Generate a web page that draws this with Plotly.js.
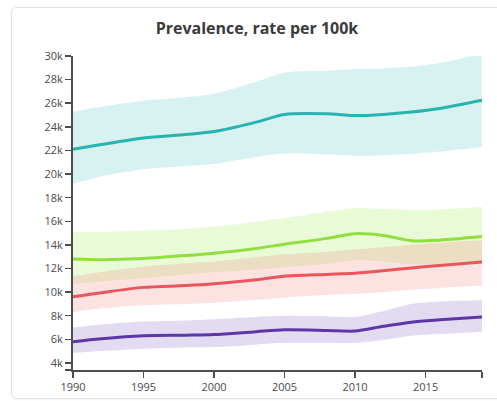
<!DOCTYPE html>
<html>
<head>
<meta charset="utf-8">
<script src="https://cdn.plot.ly/plotly-3.0.1.min.js"></script>
<style>
  html, body { margin: 0; padding: 0; background: #ffffff; width: 497px; height: 401px; overflow: hidden; }
  #card { position: absolute; left: 11px; top: 7px; width: 520px; height: 390px;
          border: 1.5px solid #e4e4e4; border-radius: 6px; box-shadow: 0 0 3px rgba(0,0,0,0.06); background: #fff; }
  #chart { position: absolute; left: 0; top: 0; width: 497px; height: 401px; }
</style>
</head>
<body>
<div id="card"></div>
<div id="chart"></div>
<script>
const years = [1990, 1992, 1995, 1998, 2000, 2003, 2005, 2008, 2010, 2012, 2014, 2016, 2019];

const tealMid   = [22100, 22500, 23050, 23350, 23600, 24400, 25050, 25100, 24950, 25050, 25250, 25550, 26250];
const tealUp    = [25300, 25700, 26200, 26500, 26800, 27800, 28600, 28750, 28900, 28950, 29100, 29400, 30200];
const tealLo    = [19200, 19800, 20400, 20650, 20850, 21450, 21750, 21650, 21550, 21600, 21700, 21900, 22300];

const greenMid  = [12800, 12750, 12850, 13100, 13300, 13700, 14050, 14550, 14950, 14800, 14350, 14400, 14700];
const greenUp   = [15100, 15100, 15200, 15350, 15550, 15950, 16250, 16800, 17100, 17050, 16950, 17000, 17200];
const greenLo   = [10700, 10900, 11200, 11500, 11700, 11900, 12100, 12400, 12700, 12600, 12350, 12400, 12600];

const redMid    = [9600, 9950, 10400, 10550, 10700, 11050, 11350, 11500, 11600, 11800, 12050, 12250, 12550];
const redUp     = [11350, 11700, 12150, 12450, 12600, 12950, 13200, 13400, 13600, 13800, 14000, 14200, 14400];
const redLo     = [8300, 8600, 8900, 9000, 9100, 9350, 9550, 9750, 9850, 10000, 10200, 10350, 10550];

const purpleMid = [5800, 6050, 6300, 6350, 6400, 6650, 6800, 6750, 6700, 7100, 7450, 7650, 7900];
const purpleUp  = [7000, 7250, 7500, 7600, 7700, 7900, 8000, 7950, 7900, 8400, 9000, 9200, 9300];
const purpleLo  = [4850, 5000, 5200, 5300, 5350, 5550, 5700, 5700, 5700, 5950, 6300, 6450, 6650];

const yTickVals = [3400, 4000, 6000, 8000, 10000, 12000, 14000, 16000, 18000, 20000, 22000, 24000, 26000, 28000, 30000];
const yTickText = ["", "4k", "6k", "8k", "10k", "12k", "14k", "16k", "18k", "20k", "22k", "24k", "26k", "28k", "30k"];
const xTickVals = [1990, 1995, 2000, 2005, 2010, 2015, 2019];
const xTickText = ["1990", "1995", "2000", "2005", "2010", "2015", ""];

const series = [
  {mid: tealMid, up: tealUp, lo: tealLo, line: '#27b3ae', fill: 'rgba(60,190,190,0.20)'},
  {mid: greenMid, up: greenUp, lo: greenLo, line: '#8fdf3f', fill: 'rgba(170,235,100,0.26)'},
  {mid: redMid, up: redUp, lo: redLo, line: '#e9575c', fill: 'rgba(245,110,110,0.20)'},
  {mid: purpleMid, up: purpleUp, lo: purpleLo, line: '#5d37a8', fill: 'rgba(125,90,195,0.22)'}
];

const traces = [];
series.forEach(s => {
  traces.push({x: years, y: s.up, mode: 'lines', line: {width: 0, shape: 'spline', smoothing: 0.8}, hoverinfo: 'skip', showlegend: false});
  traces.push({x: years, y: s.lo, mode: 'lines', line: {width: 0, shape: 'spline', smoothing: 0.8}, fill: 'tonexty', fillcolor: s.fill, hoverinfo: 'skip', showlegend: false});
});
series.forEach(s => {
  traces.push({x: years, y: s.mid, mode: 'lines', line: {color: s.line, width: 3, shape: 'spline', smoothing: 0.8}, showlegend: false});
});

const fam = '"Open Sans", Lato, sans-serif';
const layout = {
  width: 497, height: 401,
  margin: {l: 73, r: 15, t: 56, b: 31},
  paper_bgcolor: 'rgba(0,0,0,0)',
  plot_bgcolor: 'rgba(0,0,0,0)',
  font: {family: fam, color: '#4a4a4a', size: 11},
  title: {text: '<b>Prevalence, rate per 100k</b>', font: {family: fam, size: 16, color: '#3a3a3a'},
          xref: 'container', yref: 'container', x: 0.517, xanchor: 'center', y: 0.93, yanchor: 'middle'},
  xaxis: {range: [1990, 2019], showgrid: false, zeroline: false, showline: true, linecolor: '#4d4d4d', linewidth: 2,
          ticks: 'outside', ticklen: 6, tickwidth: 1.5, tickcolor: '#4d4d4d',
          tickmode: 'array', tickvals: xTickVals, ticktext: xTickText, tickfont: {family: fam, size: 11, color: '#4a4a4a'}},
  yaxis: {range: [3400, 30000], showgrid: false, zeroline: false, showline: true, linecolor: '#4d4d4d', linewidth: 2,
          ticks: 'outside', ticklen: 6, tickwidth: 1.5, tickcolor: '#4d4d4d',
          tickmode: 'array', tickvals: yTickVals, ticktext: yTickText, tickfont: {family: fam, size: 11, color: '#4a4a4a'}}
};

Plotly.newPlot('chart', traces, layout, {displayModeBar: false, staticPlot: true});
</script>
</body>
</html>
